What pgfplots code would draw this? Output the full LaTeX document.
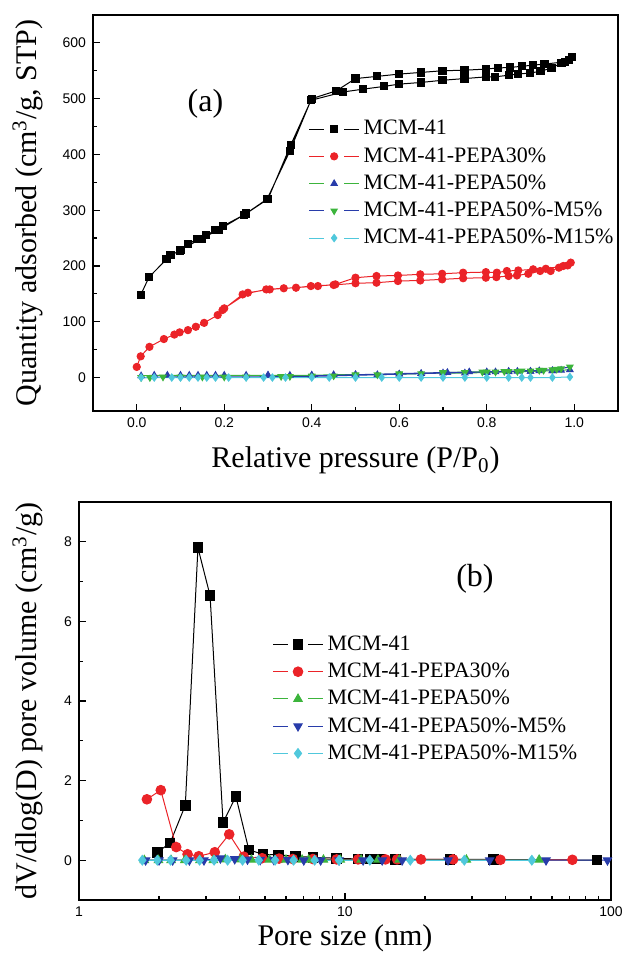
\documentclass[border=0pt]{standalone}
\usepackage{fontspec}
\setmainfont{Liberation Serif}
\newfontfamily\tickfont{Liberation Sans}
\usepackage{pgfplots}
\pgfplotsset{compat=1.18}

\definecolor{cRed}{RGB}{235,35,40}
\definecolor{cGreen}{RGB}{60,180,60}
\definecolor{cBlue}{RGB}{40,60,170}
\definecolor{cCyan}{RGB}{80,200,220}

\pgfplotsset{
 common/.style={
  scale only axis,
  axis line style={line width=0.8pt},
  tick align=inside,
  xtick pos=bottom, ytick pos=left,
  major tick length=3.5pt, minor tick length=2pt,
  every tick/.style={black, line width=0.6pt},
  tick label style={font=\tickfont\fontsize{7}{8}\selectfont},
  /pgf/number format/assume math mode=true,
  label style={font=\fontsize{15}{17}\selectfont},
  legend style={draw=none, fill=none, font=\fontsize{11}{12}\selectfont, row sep=0.8pt, inner sep=0pt},
  legend cell align=left,
  legend image code/.code={%
    \draw[##1, mark=none] plot coordinates {(0pt,0pt) (7.5pt,0pt)};%
    \draw[##1, mark=none] plot coordinates {(17.5pt,0pt) (25pt,0pt)};%
    \draw[##1, only marks] plot coordinates {(12.5pt,0pt)};},
 },
}

\begin{document}
\begin{tikzpicture}
\useasboundingbox (0,0) rectangle (312pt,478.5pt);

% ---------------- (a) ----------------
\begin{axis}[common,
  at={(46.5pt,273pt)}, anchor=south west,
  width=262.5pt, height=198pt,
  xmin=-0.1, xmax=1.1, ymin=-60, ymax=650,
  xtick={0,0.2,...,1.0}, minor x tick num=1,
  ytick={0,100,...,600}, minor y tick num=1,
  xticklabel style={/pgf/number format/.cd, fixed, fixed zerofill, precision=1},
  yticklabel style={/pgf/number format/.cd, fixed},
  xlabel={Relative pressure (P/P\textsubscript{0})},
  ylabel={Quantity adsorbed (cm\textsuperscript{3}/g, STP)},
  xlabel style={at={(axis description cs:0.5,-0.125)}, anchor=center},
  ylabel style={at={(axis description cs:-0.124,0.5)}, anchor=center},
  legend style={at={(rel axis cs:0.41,0.745)}, anchor=north west},
  every axis plot/.append style={line width=0.5pt, mark size=1.8pt},
]
\addplot[black, mark=square*] coordinates {
(0.009,148)(0.028,180)(0.068,212)(0.077,219)(0.098,227)(0.118,240)(0.138,248)(0.158,255)(0.180,264)(0.198,272)(0.246,292)(0.298,320)(0.350,406)(0.398,497)(0.472,512)(0.517,517)(0.566,522)(0.599,526)(0.649,529)(0.699,533)(0.749,536)(0.798,539)(0.818,539)(0.850,542)(0.872,544)(0.898,546)(0.923,549)(0.948,555)(0.971,564)(0.988,570)(0.994,574)
(0.979,566)(0.932,562)(0.905,560)(0.880,558)(0.854,556)(0.825,555)(0.798,553)(0.749,551)(0.699,550)(0.649,547)(0.599,544)(0.550,540)(0.500,536)(0.456,514)(0.400,500)(0.352,417)(0.300,320)(0.250,294)(0.188,265)(0.148,249)(0.100,229)
};
\addlegendentry{MCM-41}
\addplot[cRed, mark=*, mark options={fill=cRed}] coordinates {
(0.000,19)(0.009,38)(0.029,55)(0.062,69)(0.086,77)(0.098,81)(0.117,85)(0.135,91)(0.154,98)(0.185,112)(0.196,121)(0.242,149)(0.296,158)(0.336,160)(0.364,161)(0.398,164)(0.450,166)(0.500,169)(0.548,170)(0.597,173)(0.648,174)(0.698,176)(0.746,178)(0.798,179)(0.822,180)(0.850,182)(0.869,183)(0.895,186)(0.922,191)(0.946,191)(0.965,197)(0.985,201)(0.992,206)
(0.975,200)(0.935,195)(0.906,194)(0.872,192)(0.846,191)(0.823,188)(0.798,189)(0.746,188)(0.698,186)(0.648,185)(0.597,183)(0.548,182)(0.500,179)(0.454,167)(0.414,164)(0.304,158)(0.254,152)(0.200,124)
};
\addlegendentry{MCM-41-PEPA30\%}
\addplot[cGreen, mark=triangle*, mark options={fill=cBlue, draw=cBlue}] coordinates {
(0.010,3)(0.040,4)(0.070,4)(0.100,4)(0.120,4)(0.140,4)(0.160,4)(0.180,4)(0.200,4)(0.250,4)(0.300,4)(0.350,4)(0.400,4)(0.450,5)(0.500,5)(0.550,5)(0.600,6)(0.650,7)(0.710,9)(0.760,10)(0.800,10)(0.820,10)(0.850,11)(0.870,11)(0.900,11)(0.920,12)(0.950,12)(0.970,13)(0.990,14)
(0.950,12)(0.900,11)(0.850,10)(0.800,9)(0.750,8)(0.700,8)(0.650,7)(0.600,6)(0.500,5)(0.400,4)(0.300,4)
};
\addlegendentry{MCM-41-PEPA50\%}
\addplot[cBlue, mark=triangle*, mark options={fill=cGreen, draw=cGreen, rotate=180}] coordinates {
(0.010,0)(0.030,0)(0.060,1)(0.100,1)(0.150,1)(0.200,1)(0.250,1)(0.330,2)(0.350,2)(0.400,2)(0.450,3)(0.500,4)(0.550,5)(0.600,6)(0.650,7)(0.700,8)(0.750,9)(0.800,10)(0.820,10)(0.850,11)(0.870,11)(0.900,12)(0.920,13)(0.950,14)(0.970,16)(0.990,19)
(0.960,15)(0.930,13)(0.880,12)(0.840,11)(0.790,10)(0.700,9)(0.600,7)(0.500,5)(0.400,3)
};
\addlegendentry{MCM-41-PEPA50\%-M5\%}
\addplot[cCyan, mark=diamond*, mark options={fill=cCyan}] coordinates {
(0.010,0)(0.040,0)(0.080,0)(0.100,0)(0.120,0)(0.140,0)(0.160,0)(0.180,0)(0.210,0)(0.250,0)(0.290,0)(0.310,0)(0.340,0)(0.400,0)(0.440,0)(0.500,0)(0.560,0)(0.600,0)(0.650,0)(0.700,0)(0.750,0)(0.800,0)(0.850,0)(0.880,0)(0.900,0)(0.950,0)(0.990,1)
};
\addlegendentry{MCM-41-PEPA50\%-M15\%}
\node[font=\fontsize{16}{18}\selectfont] at (axis cs:0.157,491) {(a)};
\end{axis}

% ---------------- (b) ----------------
\begin{axis}[common,
  at={(39.5pt,28.5pt)}, anchor=south west,
  width=266pt, height=199pt,
  xmode=log, xmin=1, xmax=100, ymin=-1, ymax=9,
  xtick={1,10,100}, xticklabels={1,10,100},
  minor xtick={2,3,4,5,6,7,8,9,20,30,40,50,60,70,80,90},
  ytick={0,2,...,8}, minor y tick num=1,
  xlabel={Pore size (nm)},
  ylabel={dV/dlog(D) pore volume (cm\textsuperscript{3}/g)},
  xlabel style={at={(axis description cs:0.5,-0.097)}, anchor=center},
  ylabel style={at={(axis description cs:-0.096,0.5)}, anchor=center},
  legend style={at={(rel axis cs:0.363,0.675)}, anchor=north west},
  every axis plot/.append style={line width=0.5pt, mark size=2.4pt},
]
\addplot[black, mark=square*] coordinates {
(1.97,0.20)(2.20,0.43)(2.51,1.38)(2.80,7.85)(3.11,6.65)(3.48,0.95)(3.89,1.60)(4.35,0.26)(4.91,0.15)(5.62,0.13)(6.50,0.10)(7.57,0.07)(9.30,0.05)(11.2,0.03)(12.4,0.03)(13.6,0.03)(15.5,0.02)(24.8,0.02)(36.2,0.02)(88.5,0.00)
};
\addlegendentry{MCM-41}
\addplot[cRed, mark=*, mark options={fill=cRed}] coordinates {
(1.80,1.53)(2.03,1.76)(2.32,0.33)(2.56,0.15)(2.82,0.10)(3.24,0.20)(3.67,0.65)(4.16,0.09)(4.88,0.05)(5.65,0.04)(6.36,0.03)(7.57,0.03)(9.30,0.02)(11.2,0.02)(14.2,0.02)(15.7,0.02)(19.3,0.02)(25.5,0.02)(38.4,0.01)(71.6,0.01)
};
\addlegendentry{MCM-41-PEPA30\%}
\addplot[cGreen, mark=triangle*, mark options={fill=cGreen}] coordinates {
(1.76,0)(1.99,0)(2.22,0)(2.50,0)(2.85,0)(3.20,0)(3.55,0.02)(4.05,0.02)(4.45,0.01)(5.20,0.01)(6.00,0.01)(6.90,0.01)(7.30,0.01)(8.30,0.01)(9.60,0.01)(11.5,0.01)(13.3,0.01)(16.0,0.01)(28.6,0.01)(53.7,0.01)
};
\addlegendentry{MCM-41-PEPA50\%}
\addplot[cBlue, mark=triangle*, mark options={fill=cBlue, rotate=180}] coordinates {
(1.78,0)(2.00,0)(2.25,0)(2.60,0)(2.95,0)(3.40,0.05)(3.85,0.03)(4.30,0.02)(4.80,0.01)(5.40,0.01)(6.10,0.01)(7.00,0)(8.10,0)(9.50,0)(11.7,0)(13.8,0)(16.4,0)(24.4,0)(35.0,0)(57.0,0)(97.0,0)
};
\addlegendentry{MCM-41-PEPA50\%-M5\%}
\addplot[cCyan, mark=diamond*, mark options={fill=cCyan}] coordinates {
(1.73,0)(1.97,0)(2.21,0)(2.53,0)(2.84,0)(3.22,0)(3.62,0)(4.12,0)(4.74,0)(5.46,0)(6.41,0)(7.69,0)(9.50,0)(12.4,0)(17.6,0)(28.1,0)(50.4,0)
};
\addlegendentry{MCM-41-PEPA50\%-M15\%}
\node[font=\fontsize{16}{18}\selectfont] at (axis cs:30.8,7.08) {(b)};
\end{axis}
\end{tikzpicture}
\end{document}
